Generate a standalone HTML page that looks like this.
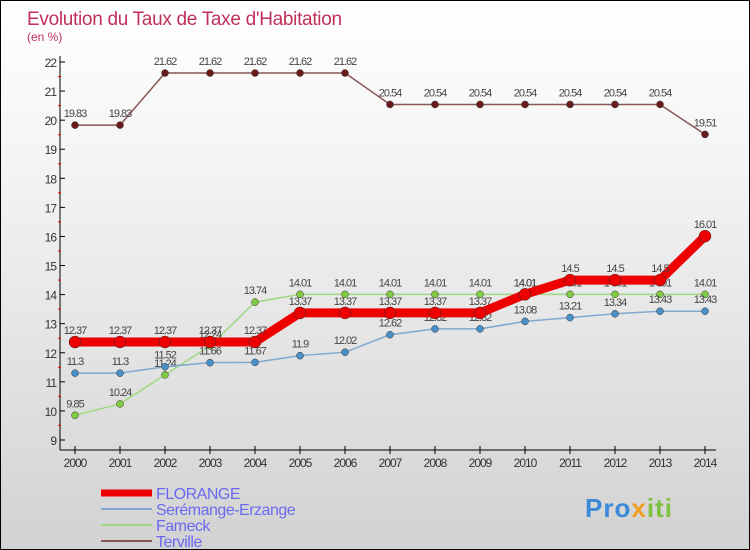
<!DOCTYPE html>
<html><head><meta charset="utf-8"><style>
body{margin:0}
#wrap{width:748px;height:548px;border:1px solid #000;background:linear-gradient(#fff 0%,#f4f4f4 30%,#d2d2d2 100%);position:relative;font-family:"Liberation Sans",sans-serif;overflow:hidden}
svg{position:absolute;left:0;top:0}
</style></head><body>
<div id="wrap">
<svg id="c" width="748" height="548"></svg>
</div>
<script>
const years=[2000,2001,2002,2003,2004,2005,2006,2007,2008,2009,2010,2011,2012,2013,2014];
const yTicks=[9,10,11,12,13,14,15,16,17,18,19,20,21,22];
const florange=[12.37,12.37,12.37,12.37,12.37,13.37,13.37,13.37,13.37,13.37,14.01,14.5,14.5,14.5,16.01];
const seremange=[11.3,11.3,11.52,11.66,11.67,11.9,12.02,12.62,12.82,12.82,13.08,13.21,13.34,13.43,13.43];
const fameck=[9.85,10.24,11.24,12.24,13.74,14.01,14.01,14.01,14.01,14.01,14.01,14.01,14.01,14.01,14.01];
const terville=[19.83,19.83,21.62,21.62,21.62,21.62,21.62,20.54,20.54,20.54,20.54,20.54,20.54,20.54,19.51];
const NS='http://www.w3.org/2000/svg';
const svg=document.getElementById('c');
const X=i=>74+i*45, Y=v=>61+(22-v)*(378/13);
function el(t,a,p){const e=document.createElementNS(NS,t);for(const k in a)e.setAttribute(k,a[k]);(p||svg).appendChild(e);return e;}
let t=el('text',{x:26,y:24,'font-size':19,fill:'#c0305a','letter-spacing':'-0.3'});t.textContent="Evolution du Taux de Taxe d'Habitation";

t=el('text',{x:26,y:40,'font-size':12,fill:'#c0305a'});t.textContent="(en %)";

let a=el('line',{x1:59,y1:55,x2:59,y2:449,stroke:'#000'});

a=el('line',{x1:59,y1:449,x2:715,y2:449,stroke:'#000'});

yTicks.forEach(v=>{
 el('line',{x1:59,y1:Y(v),x2:64,y2:Y(v),stroke:'#000'});
 if(v<22)el('line',{x1:57,y1:Y(v+0.5),x2:60,y2:Y(v+0.5),stroke:'#e00'});
 const l=el('text',{x:55,y:Y(v)+5,'font-size':12,fill:'#333','text-anchor':'end','letter-spacing':'-1'});l.textContent=v;
 
});
years.forEach((y,i)=>{
 el('line',{x1:X(i),y1:445,x2:X(i),y2:453,stroke:'#000'});
 const l=el('text',{x:X(i),y:466,'font-size':12,fill:'#333','text-anchor':'middle','letter-spacing':'-1'});l.textContent=y;
 
});
function series(name,vals,color,w,r,dot){
 const g=el('g',{});
 
 const p=el('polyline',{points:vals.map((v,i)=>X(i)+','+Y(v)).join(' '),fill:'none',stroke:color,'stroke-width':w,'stroke-linejoin':'round'},g);
 
 vals.forEach((v,i)=>{
  const c=el('circle',{cx:X(i),cy:Y(v),r:r,fill:dot,stroke:'#333','stroke-width':0.5},g);
  
  const l=el('text',{x:X(i),y:Y(v)-8,'font-size':11,fill:'#444','text-anchor':'middle','letter-spacing':'-1'},g);l.textContent=v;
  
 });
}
series('terville',terville,'#8a5555',1.5,3.5,'#6a1a1a');
series('fameck',fameck,'#a0d880',1.5,3.5,'#80cc40');
series('seremange',seremange,'#80a8d0',1.5,3.5,'#4a90c8');
series('florange',florange,'#ee0000',9,6,'#ee0000');
const leg=[['FLORANGE','#ee0000',7],['Serémange-Erzange','#80a8d0',2],['Fameck','#a0d880',2],['Terville','#8a5555',2]];
leg.forEach((d,i)=>{
 const y=492+i*16;
 const g=el('g',{});
 el('line',{x1:100,y1:y,x2:151,y2:y,stroke:d[1],'stroke-width':d[2]},g);
 const l=el('text',{x:155,y:y+6,'font-size':16,fill:'#6a6af0','letter-spacing':'-0.5'},g);l.textContent=d[0];
});
t=el('text',{x:584,y:516,'font-size':26,'font-weight':'bold','letter-spacing':'1'});

el('tspan',{fill:'#3a8ad8'},t).textContent='Pro';
el('tspan',{fill:'#f0a020'},t).textContent='x';
el('tspan',{fill:'#80c040'},t).textContent='iti';
</script>
</body></html>
